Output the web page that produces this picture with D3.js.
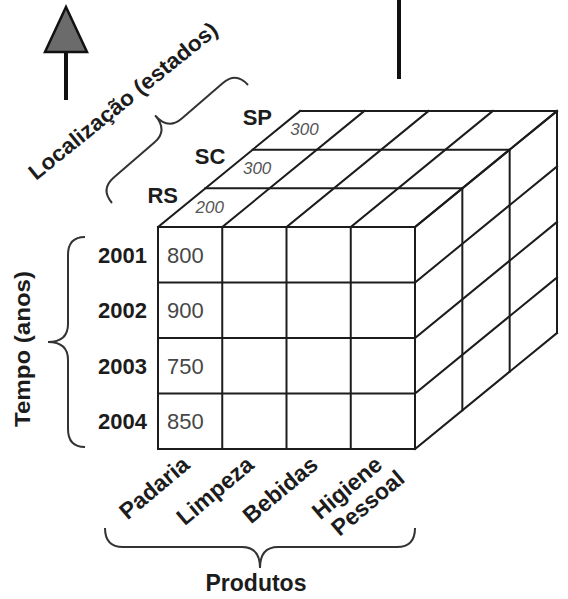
<!DOCTYPE html>
<html><head><meta charset="utf-8">
<script src="https://cdn.jsdelivr.net/npm/d3@7/dist/d3.min.js"></script>
<style>
html,body{margin:0;padding:0;background:#fff;}
svg{display:block;font-family:"Liberation Sans",Arial,sans-serif;}
</style></head>
<body>
<svg id="c" width="568" height="599"></svg>
<script>
// ---- data ----
const produtos = [["Padaria"], ["Limpeza"], ["Bebidas"], ["Higiene", "Pessoal"]];
const anos = ["2001", "2002", "2003", "2004"];
const estados = ["RS", "SC", "SP"];
const vendasAno = [800, 900, 750, 850];      // Padaria, RS, por ano
const vendasEstado = [200, 300, 300];        // Padaria, 2001, por estado
const eixoProdutos = "Produtos";
const eixoTempo = "Tempo (anos)";
const eixoLocal = "Localização (estados)";

// ---- layout ----
const svg = d3.select("#c");
const ink = "#1c1c1c";
const x = d3.scaleLinear().domain([0, produtos.length]).range([158, 415]);
const y = d3.scaleLinear().domain([0, anos.length]).range([227, 449]);
const depth = d3.scaleLinear().domain([0, estados.length]).range([0, 1]);
const DX = 142, DY = -116;
const P = (i, j, k) => [x(i) + DX * depth(k), y(j) + DY * depth(k)];
const nI = produtos.length, nJ = anos.length, nK = estados.length;

// grid segments
const segs = [];
// front face
d3.range(nJ + 1).forEach(j => segs.push([P(0, j, 0), P(nI, j, 0)]));
d3.range(nI + 1).forEach(i => segs.push([P(i, 0, 0), P(i, nJ, 0)]));
// top face
d3.range(nK + 1).forEach(k => segs.push([P(0, 0, k), P(nI, 0, k)]));
d3.range(nI + 1).forEach(i => segs.push([P(i, 0, 0), P(i, 0, nK)]));
// right face
d3.range(nJ + 1).forEach(j => segs.push([P(nI, j, 0), P(nI, j, nK)]));
d3.range(nK + 1).forEach(k => segs.push([P(nI, 0, k), P(nI, nJ, k)]));

svg.append("g").selectAll("line").data(segs).join("line")
  .attr("x1", d => d[0][0]).attr("y1", d => d[0][1])
  .attr("x2", d => d[1][0]).attr("y2", d => d[1][1])
  .attr("stroke", ink).attr("stroke-width", 2).attr("stroke-linecap", "square");

// ---- labels: years + values ----
const yc = j => (y(j) + y(j + 1)) / 2;
svg.append("g").selectAll("text").data(anos).join("text")
  .attr("x", x(0) - 11).attr("y", (d, j) => yc(j) + 8)
  .attr("text-anchor", "end").attr("font-size", 22).attr("font-weight", "bold")
  .attr("fill", ink).text(d => d);
svg.append("g").selectAll("text").data(vendasAno).join("text")
  .attr("x", x(0) + 9).attr("y", (d, j) => yc(j) + 8)
  .attr("font-size", 22).attr("fill", "#474747").text(d => d);

// states
svg.append("g").selectAll("text").data(estados).join("text")
  .attr("x", (d, k) => (P(0, 0, k)[0] + P(0, 0, k + 1)[0]) / 2 - 19)
  .attr("y", (d, k) => (P(0, 0, k)[1] + P(0, 0, k + 1)[1]) / 2 - 5)
  .attr("text-anchor", "middle").attr("font-size", 22).attr("font-weight", "bold")
  .attr("fill", ink).text(d => d);
svg.append("g").selectAll("text").data(vendasEstado).join("text")
  .attr("x", (d, k) => P(0.5, 0, k + 0.5)[0] - 4)
  .attr("y", (d, k) => P(0.5, 0, k + 0.5)[1] + 5)
  .attr("text-anchor", "middle").attr("font-size", 17).attr("font-style", "italic")
  .attr("fill", "#555").text(d => d);

// products (rotated)
const pg = svg.append("g").selectAll("g").data(produtos).join("g")
  .attr("transform", (d, i) => `translate(${(x(i) + x(i + 1)) / 2 + 1},${y(nJ) + 18}) rotate(-40)`);
pg.selectAll("text").data(d => d).join("text")
  .attr("x", (d, l) => l * 8).attr("y", (d, l) => l * 25)
  .attr("text-anchor", "end").attr("font-size", 23).attr("font-weight", "bold")
  .attr("fill", ink).text(d => d);

// ---- braces ----
function brace(x1, y1, x2, y2, s, c, r) {
  const L = Math.hypot(x2 - x1, y2 - y1);
  const a = Math.atan2(y2 - y1, x2 - x1) * 180 / Math.PI;
  const h = L / 2;
  const p = d3.path();
  p.moveTo(0, 0);
  p.quadraticCurveTo(0, -s, r, -s);
  p.lineTo(h - r, -s);
  p.quadraticCurveTo(h, -s, h, -c);
  p.quadraticCurveTo(h, -s, h + r, -s);
  p.lineTo(L - r, -s);
  p.quadraticCurveTo(L, -s, L, 0);
  svg.append("path").attr("d", p.toString())
    .attr("transform", `translate(${x1},${y1}) rotate(${a})`)
    .attr("fill", "none").attr("stroke", "#333").attr("stroke-width", 2);
}
brace(85, y(nJ) - 2, 85, y(0) + 10, 17, 37, 18);         // Tempo
brace(x(nI), y(nJ) + 79, x(0) - 53, y(nJ) + 79, 19, 40, 18); // Produtos
brace(112, 203, 248, 85, 18, 38, 18);                     // Localização

// axis titles
svg.append("text").attr("x", 256).attr("y", 591).attr("text-anchor", "middle")
  .attr("font-size", 23).attr("font-weight", "bold").attr("fill", ink).text(eixoProdutos);
svg.append("text").attr("transform", "translate(30,349) rotate(-90)")
  .attr("text-anchor", "middle").attr("font-size", 22).attr("font-weight", "bold")
  .attr("textLength", 156).attr("lengthAdjust", "spacingAndGlyphs")
  .attr("fill", ink).text(eixoTempo);
svg.append("text").attr("transform", "translate(36,181) rotate(-39)")
  .attr("font-size", 22).attr("font-weight", "bold")
  .attr("textLength", 236).attr("lengthAdjust", "spacingAndGlyphs")
  .attr("fill", ink).text(eixoLocal);

// ---- arrows ----
svg.append("line").attr("x1", 66).attr("y1", 52).attr("x2", 66).attr("y2", 100)
  .attr("stroke", "#111").attr("stroke-width", 4);
svg.append("path").attr("d", "M66,7 L87,52 L45,52 Z")
  .attr("fill", "#6b6b6b").attr("stroke", "#111").attr("stroke-width", 2.5).attr("stroke-linejoin", "miter");
svg.append("line").attr("x1", 399).attr("y1", 0).attr("x2", 399).attr("y2", 79)
  .attr("stroke", "#111").attr("stroke-width", 4);
</script>
</body></html>
